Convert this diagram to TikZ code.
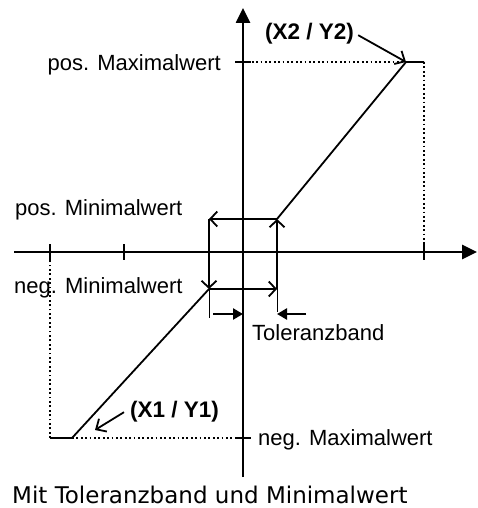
\documentclass[tikz,border=0pt]{standalone}
\usepackage{fontspec}
\setmainfont{Liberation Sans}
\newfontfamily\captionfont{DejaVu Sans}
\usetikzlibrary{arrows.meta, positioning, calc}

\tikzset{
    axisline/.style={line width=2.6pt, -{Triangle[length=15pt,width=14pt]}},
    tickmark/.style={line width=2.6pt},
    curve/.style={line width=1.8pt},
    hyst/.style={line width=1.8pt, -{Straight Barb[length=7pt,width=15pt]}},
    thinline/.style={line width=0.9pt},
    guide/.style={line width=1.8pt, dash pattern=on 1.8pt off 2.6pt},
    tolarrow/.style={line width=2.4pt, -{Triangle[length=10pt,width=11pt]}},
    pointer/.style={line width=1.8pt, -{Straight Barb[length=8pt,width=15pt]}},
    lbl/.style={font=\fontsize{22}{25}\selectfont, inner sep=0pt},
    bold lbl/.style={lbl, font=\fontsize{22.5}{25}\selectfont\bfseries},
}

\begin{document}
\begin{tikzpicture}[x=1pt, y=-1pt]
\useasboundingbox (0,0) rectangle (477,508);

% Axes
\coordinate (xl) at (14,252);
\coordinate (xr) at (477,252);
\coordinate (yb) at (243,477);
\coordinate (yt) at (243,8);
\draw[axisline] (xl) -- (xr);
\draw[axisline] (yb) -- (yt);
\foreach \x in {50,124,424} {
    \draw[tickmark] (\x,244) -- (\x,260);
}
\foreach \y in {62,438} {
    \draw[tickmark] (235,\y) -- (251,\y);
}

% Characteristic with limits
\coordinate (P2) at (406,62);
\coordinate (P2e) at (424,62);
\coordinate (P1) at (72,438);
\coordinate (P1e) at (50,438);
\coordinate (A) at (277,219);
\coordinate (B) at (209,219);
\coordinate (C) at (209,289);
\coordinate (D) at (277,289);
\draw[curve] (A) -- (P2) -- (P2e);
\draw[curve] (P1e) -- (P1) -- (C);

% Dotted guides
\draw[guide] (243,62) -- (P2);
\draw[guide] (P2e) -- (424,252);
\draw[guide] (P1) -- (243,438);
\draw[guide] (P1e) -- (50,252);

% Minimal value loop
\draw[hyst] (A) -- (B);
\draw[hyst] (B) -- (C);
\draw[hyst] (C) -- (D);
\draw[hyst] (D) -- (A);

% Tolerance band
\coordinate (Ct) at (209,318);
\coordinate (Dt) at (277,312);
\draw[thinline] (C) -- (Ct);
\draw[thinline] (D) -- (Dt);
\coordinate (tl) at (213,314);
\coordinate (tm) at (243,314);
\coordinate (tr) at (306,314);
\coordinate (tri) at (277,314);
\draw[tolarrow] (tl) -- (tm);
\draw[tolarrow] (tr) -- (tri);

% Labels
\node[lbl, anchor=base east] (posmax) at (221,71) {pos. Maximalwert};
\node[lbl, anchor=base west] (posmin) at (15,215) {pos. Minimalwert};
\node[lbl, anchor=base west] (negmin) at (14,293) {neg. Minimalwert};
\node[lbl, anchor=base west] (negmax) at (258,445) {neg. Maximalwert};
\node[lbl, anchor=base west] (tol) at (252,340) {Toleranzband};
\node[bold lbl, anchor=base west] (x2) at (265,40) {(X2 / Y2)};
\node[bold lbl, anchor=base west] (x1) at (130,417) {(X1 / Y1)};
\coordinate (x1tip) at (95,430);
\draw[pointer] ($(x2.east)+(4,1)$) -- (P2);
\draw[pointer] ($(x1.west)+(-6,1)$) -- (x1tip);

% Caption
\node[font=\captionfont\fontsize{23}{26}\selectfont, anchor=base west, inner sep=0pt] (cap) at (12,503) {Mit Toleranzband und Minimalwert};
\end{tikzpicture}
\end{document}
